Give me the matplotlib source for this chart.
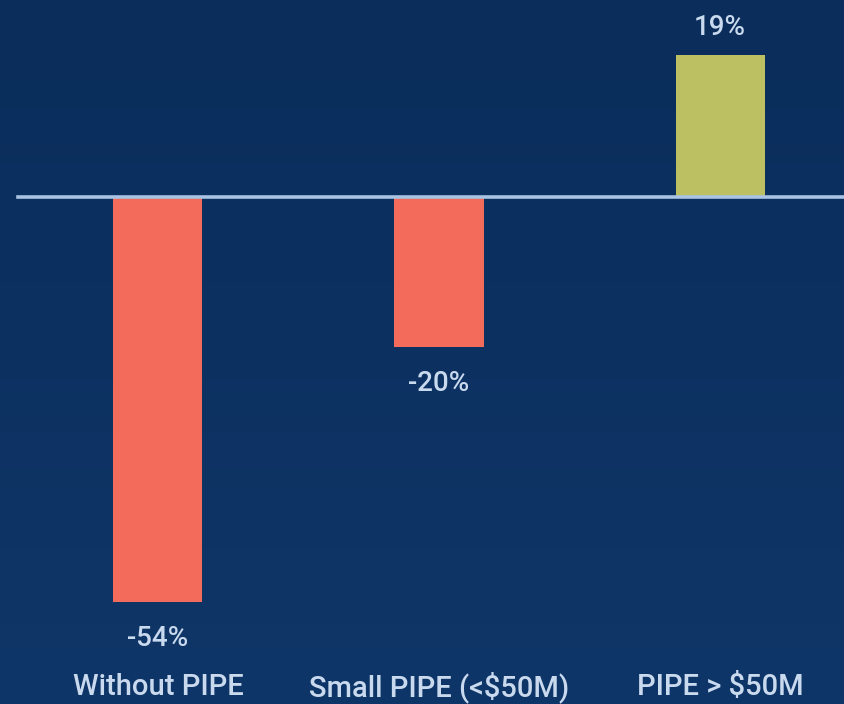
import numpy as np
import matplotlib
matplotlib.use("Agg")
import matplotlib.pyplot as plt
from matplotlib import font_manager

categories = ["Without PIPE", "Small PIPE (<$50M)", "PIPE > $50M"]
values = [-54, -20, 19]
value_labels = ["-54%", "-20%", "19%"]

neg_color = "#f26b5b"
pos_color = "#bcbf62"
text_color = "#c9d9ee"
line_color = "#a8c3e4"

available = {f.name for f in font_manager.fontManager.ttflist}
family = [f for f in ["Roboto", "DejaVu Sans"] if f in available]

fig = plt.figure(figsize=(8.44, 7.04), dpi=100)
ax = fig.add_axes([0, 0, 1, 1])

# subtle vertical gradient background
grad = np.linspace(0, 1, 256).reshape(-1, 1)
top = np.array([0x0a, 0x2d, 0x5b]) / 255
bot = np.array([0x0f, 0x36, 0x68]) / 255
img = top + (bot - top) * grad[..., None]
ax.imshow(img, extent=[-0.562, 2.441, -67.6, 26.27], aspect="auto", zorder=0,
          origin="upper")

x = np.arange(len(categories))
colors = [neg_color if v < 0 else pos_color for v in values]
ax.bar(x, values, width=0.317, color=colors, zorder=2)

ax.axhline(0, xmin=18 / 844, xmax=1, color=line_color, lw=2.6, zorder=3)

for xi, v, lab in zip(x, values, value_labels):
    offset = 3.6 if v >= 0 else -4.8
    ax.text(xi, v + offset, lab, ha="center", va="center", color=text_color,
            fontsize=20, fontweight="medium", family=family)

for xi, cat in zip(x, categories):
    ax.text(xi, -65.3, cat, ha="center", va="center", color=text_color,
            fontsize=21, fontweight="medium", family=family)

ax.set_xlim(-0.562, 2.441)
ax.set_ylim(-67.6, 26.27)
ax.axis("off")

fig.savefig("out.png", dpi=100)
